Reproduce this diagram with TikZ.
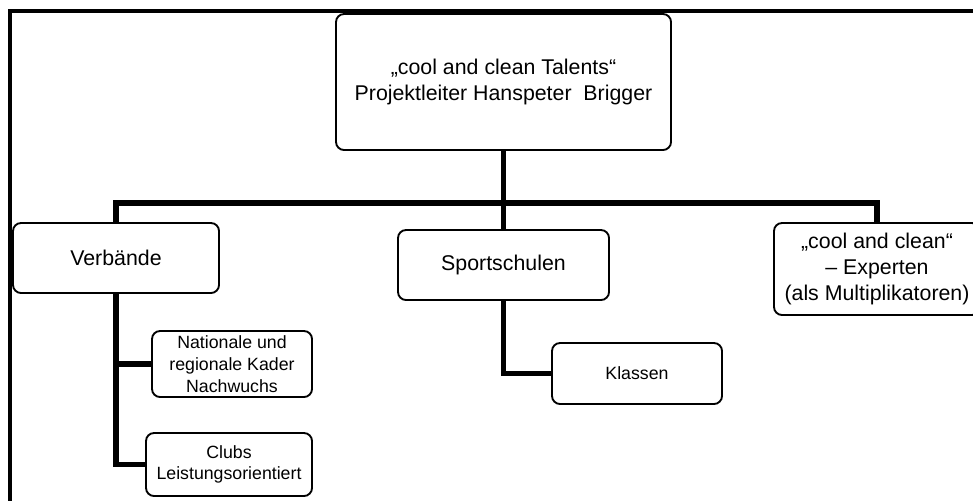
\documentclass[tikz,border=0pt]{standalone}
\usepackage{fontspec}
\setmainfont{Liberation Sans}
\usepackage{tikz}
\usetikzlibrary{positioning,calc}

\begin{document}
\begin{tikzpicture}[x=0.75pt, y=-0.75pt,
    box/.style={rectangle, draw, line width=1.4pt, rounded corners=6pt, align=center, inner sep=0pt, font=\fontsize{16}{19.5}\selectfont},
    smallbox/.style={box, font=\fontsize{13.3}{16.3}\selectfont},
    boxsize/.style 2 args={minimum width=#1*0.75pt, minimum height=#2*0.75pt},
    link/.style={line width=4.2pt, line join=miter}]
    \clip (0,0) rectangle (973,500);
    \draw[line width=2.3pt] (10,11) rectangle (1000,530);

    \node[box, boxsize={335}{136}] (lead) at (503.5,82) {„cool and clean Talents“\\Projektleiter Hanspeter\ \ Brigger};
    \node[box, boxsize={206}{70}] (verb) at (116,258) {Verbände};
    \node[box, boxsize={211}{70}] (schul) at (503.5,265) {Sportschulen};
    \node[box, boxsize={206}{92}] (expert) at (877,269) {„cool and clean“\\– Experten\\(als Multiplikatoren)};
    \node[smallbox, boxsize={160}{66}] (kader) at (232,364) {Nationale und\\regionale Kader\\Nachwuchs};
    \node[smallbox, boxsize={166}{63}] (clubs) at (229,464.5) {Clubs\\Leistungsorientiert};
    \node[smallbox, boxsize={170}{61}] (klassen) at (637,373.5) {Klassen};

    % Connections
    \coordinate (bus) at (503.5,203);
    \draw[link] (lead) -- (schul);
    \draw[link] (verb.north) |- (bus) -| (expert.north);
    \draw[link] (verb.south) |- (kader.west);
    \draw[link] (verb.south) |- (clubs.west);
    \draw[link] (schul.south) |- (klassen.west);
\end{tikzpicture}
\end{document}
